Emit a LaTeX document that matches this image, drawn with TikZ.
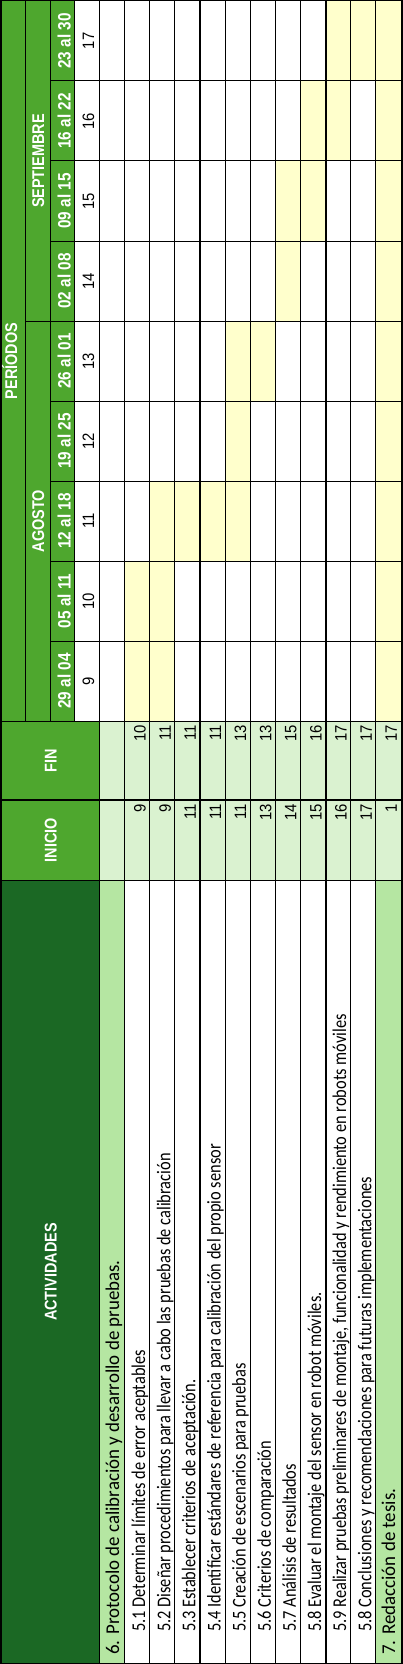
\documentclass[tikz,border=0pt]{standalone}
\usepackage{fontspec}
\setmainfont{Carlito}
\newfontfamily\hdrfont[FakeStretch=0.85]{Liberation Sans}
\newfontfamily\numfont[FakeStretch=0.9]{Liberation Sans}
\newfontfamily\actfont[FakeStretch=0.97]{Carlito}
\newfontfamily\subfont[FakeStretch=0.84]{Carlito}
\definecolor{hdrgreen}{RGB}{78,167,46}
\definecolor{darkgreen}{RGB}{27,104,36}
\definecolor{midgreen}{RGB}{181,230,162}
\definecolor{lightgreen}{RGB}{218,242,208}
\definecolor{baryellow}{RGB}{255,255,204}
\begin{document}
\begin{tikzpicture}[x=1pt,y=-1pt,
  hdr/.style={font=\hdrfont\bfseries\fontsize{17}{20}\selectfont, text=white, rotate=90, inner sep=0pt, anchor=base},
  wk/.style={font=\hdrfont\bfseries\fontsize{18}{20}\selectfont, text=white, rotate=90, inner sep=0pt, anchor=base},
  num/.style={font=\numfont\fontsize{16.5}{20}\selectfont, text=black, rotate=90, inner sep=0pt},
  mainact/.style={font=\actfont\fontsize{19.5}{22}\selectfont, text=black, rotate=90, inner sep=0pt, anchor=base west},
  subact/.style={font=\subfont\fontsize{19.5}{22}\selectfont, text=black, rotate=90, inner sep=0pt, anchor=base west},
  grid/.style={black, line width=1pt},
  thick grid/.style={black, line width=2pt}]
\useasboundingbox (0,0) rectangle (403,1664);
\fill[white] (0,0) rectangle (403,1664);
% header fills
\fill[hdrgreen] (0,0) rectangle (99.5,880);
\fill[white] (74,0) rectangle (99.5,721);
\fill[darkgreen] (0,880) rectangle (99.5,1663.5);
% data fills
\fill[lightgreen] (99.5,721) rectangle (402,880);
\fill[midgreen] (99.5,880) rectangle (124.6,1663.5);
\fill[midgreen] (375.9,880) rectangle (402,1663.5);
% gantt bars: row index / start week / end week
\foreach \i/\s/\e in {1/9/10,2/9/11,3/11/11,4/11/11,5/11/13,6/13/13,7/14/15,8/15/16,9/16/17,10/17/17,11/9/17}{
  \fill[baryellow] ({99.5+25.125*\i},{721-80*(\e-8)}) rectangle ({99.5+25.125*(\i+1)},{721-80*(\s-9)});
}
% grid lines
\foreach \xx in {25,50,74}{\draw[grid] (\xx,0) -- (\xx,721);}
\draw[grid] (99.5,0) -- (99.5,1663.5);
\foreach \i in {1,2,3,5,6,7,8,10,11}{\draw[grid] ({99.5+25.125*\i},0) -- ({99.5+25.125*\i},1663.5);}
\foreach \i in {4,9}{\draw[thick grid] ({99.5+25.125*\i},0) -- ({99.5+25.125*\i},1663.5);}
\foreach \k in {1,...,8}{\draw[grid] (50,{1+80*\k}) -- (402,{1+80*\k});}
\draw[grid] (25,321) -- (50,321);
\draw[grid] (0,721) -- (402,721);
\draw[line width=1.7pt] (0,800) -- (402,800);
\draw[grid] (0,880) -- (402,880);
\draw[line width=1.5pt] (0.75,0.75) rectangle (401.75,1663.25);
% header texts
\node[hdr] (periodos) at (17,361) {PERÍODOS};
\node[hdr] (sept) at (44,161) {SEPTIEMBRE};
\node[hdr] (agosto) at (44,521) {AGOSTO};
\node[hdr] (fin) at (56.5,760.5) {FIN};
\node[hdr] (inicio) at (56.5,840) {INICIO};
\node[hdr] (actividades) at (56.5,1272) {ACTIVIDADES};
\foreach \k/\lab in {9/29 al 04,10/05 al 11,11/12 al 18,12/19 al 25,13/26 al 01,14/02 al 08,15/09 al 15,16/16 al 22,17/23 al 30}{
  \node[wk] (wk\k) at (70.5,{681-80*(\k-9)}) {\lab};
  \node[num, anchor=base] (n\k) at (94,{681-80*(\k-9)}) {\k};
}
% activity rows
\node[mainact] (a0) at (119,1655) {6. Protocolo de calibración y desarrollo de pruebas.};
\foreach \i/\lab/\ini/\fin in {
  1/{5.1 Determinar límites de error aceptables}/9/10,
  2/{5.2 Diseñar procedimientos para llevar a cabo las pruebas de calibración}/9/11,
  3/{5.3 Establecer criterios de aceptación.}/11/11,
  4/{5.4 Identificar estándares de referencia para calibración del propio sensor}/11/11,
  5/{5.5 Creación de escenarios para pruebas}/11/13,
  6/{5.6 Criterios de comparación}/13/13,
  7/{5.7 Análisis de resultados}/14/15,
  8/{5.8 Evaluar el montaje del sensor en robot móviles.}/15/16,
  9/{5.9 Realizar pruebas preliminares de montaje, funcionalidad y rendimiento en robots móviles}/16/17,
  10/{5.8 Conclusiones y recomendaciones para futuras implementaciones}/17/17}{
  \node[subact] (a\i) at ({99.5+25.125*\i+20.5},1632) {\lab};
  \node[num, anchor=base east] (ini\i) at ({99.5+25.125*\i+21},804) {\ini};
  \node[num, anchor=base east] (fin\i) at ({99.5+25.125*\i+21},725) {\fin};
}
\node[mainact] (a11) at (395,1655) {7. Redacción de tesis.};
\node[num, anchor=base east] (ini11) at ({99.5+25.125*11+21},804) {1};
\node[num, anchor=base east] (fin11) at ({99.5+25.125*11+21},725) {17};
\end{tikzpicture}
\end{document}
